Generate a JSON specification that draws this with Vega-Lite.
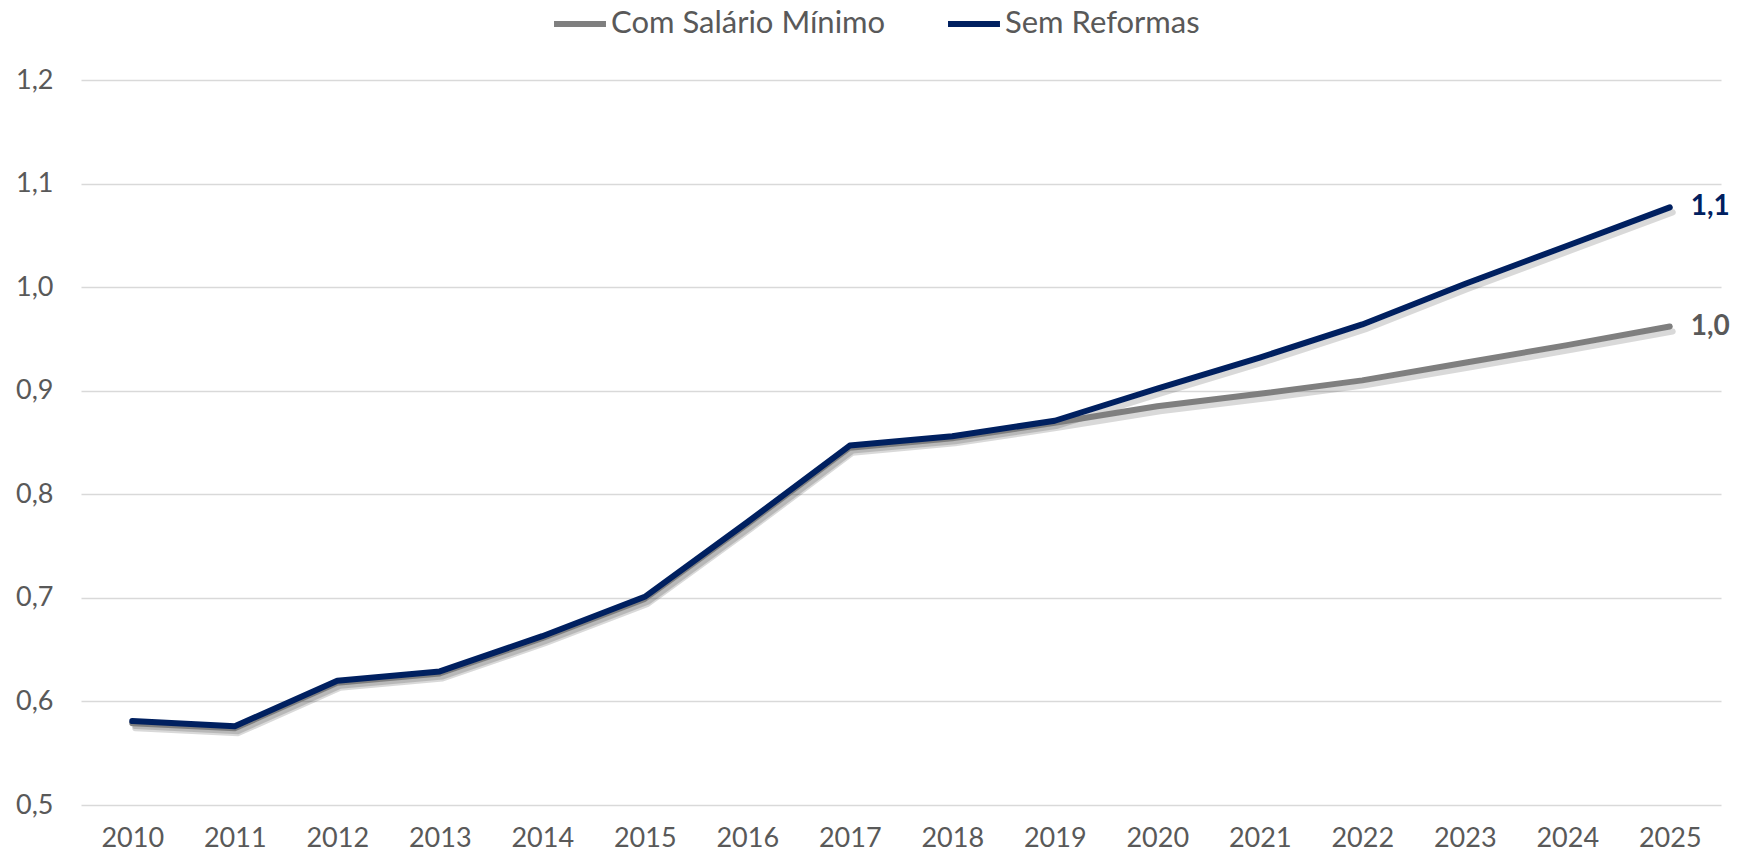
{
  "$schema": "https://vega.github.io/schema/vega-lite/v6.json",
  "autosize": "none",
  "width": 1640,
  "height": 725,
  "padding": {"left": 81, "top": 80, "right": 20, "bottom": 51},
  "background": "white",
  "config": {
    "locale": {"number": {"decimal": ",", "thousands": ".", "grouping": [3], "currency": ["", " €"]}},
    "font": "Lato",
    "view": {"stroke": null},
    "axis": {"labelFont": "Lato", "labelColor": "#595959", "labelFontSize": 27, "domain": false, "ticks": false, "title": null}
  },
  "data": {
    "values": [
      {"year": "2010", "series": "Com Salário Mínimo", "value": 0.579},
      {"year": "2011", "series": "Com Salário Mínimo", "value": 0.574},
      {"year": "2012", "series": "Com Salário Mínimo", "value": 0.618},
      {"year": "2013", "series": "Com Salário Mínimo", "value": 0.627},
      {"year": "2014", "series": "Com Salário Mínimo", "value": 0.661},
      {"year": "2015", "series": "Com Salário Mínimo", "value": 0.699},
      {"year": "2016", "series": "Com Salário Mínimo", "value": 0.771},
      {"year": "2017", "series": "Com Salário Mínimo", "value": 0.845},
      {"year": "2018", "series": "Com Salário Mínimo", "value": 0.854},
      {"year": "2019", "series": "Com Salário Mínimo", "value": 0.869},
      {"year": "2020", "series": "Com Salário Mínimo", "value": 0.885},
      {"year": "2021", "series": "Com Salário Mínimo", "value": 0.897},
      {"year": "2022", "series": "Com Salário Mínimo", "value": 0.910},
      {"year": "2023", "series": "Com Salário Mínimo", "value": 0.927},
      {"year": "2024", "series": "Com Salário Mínimo", "value": 0.944},
      {"year": "2025", "series": "Com Salário Mínimo", "value": 0.962},
      {"year": "2010", "series": "Sem Reformas", "value": 0.581},
      {"year": "2011", "series": "Sem Reformas", "value": 0.576},
      {"year": "2012", "series": "Sem Reformas", "value": 0.620},
      {"year": "2013", "series": "Sem Reformas", "value": 0.629},
      {"year": "2014", "series": "Sem Reformas", "value": 0.663},
      {"year": "2015", "series": "Sem Reformas", "value": 0.701},
      {"year": "2016", "series": "Sem Reformas", "value": 0.773},
      {"year": "2017", "series": "Sem Reformas", "value": 0.847},
      {"year": "2018", "series": "Sem Reformas", "value": 0.856},
      {"year": "2019", "series": "Sem Reformas", "value": 0.871},
      {"year": "2020", "series": "Sem Reformas", "value": 0.902},
      {"year": "2021", "series": "Sem Reformas", "value": 0.932},
      {"year": "2022", "series": "Sem Reformas", "value": 0.964},
      {"year": "2023", "series": "Sem Reformas", "value": 1.003},
      {"year": "2024", "series": "Sem Reformas", "value": 1.040},
      {"year": "2025", "series": "Sem Reformas", "value": 1.077}
    ]
  },
  "encoding": {
    "x": {
      "field": "year", "type": "ordinal",
      "scale": {"type": "point", "padding": 0.5},
      "axis": {"labelAngle": 0, "labelPadding": 20, "grid": false}
    },
    "y": {
      "field": "value", "type": "quantitative",
      "scale": {"domain": [0.5, 1.2], "nice": false, "zero": false},
      "axis": {"values": [0.5, 0.6, 0.7, 0.8, 0.9, 1.0, 1.1, 1.2], "format": ".1f", "labelPadding": 28, "grid": true, "gridColor": "#d9d9d9", "gridWidth": 1.5}
    }
  },
  "layer": [
    {
      "mark": {"type": "line", "strokeWidth": 6, "strokeCap": "round", "strokeJoin": "round", "xOffset": 3, "yOffset": 5, "opacity": 0.15},
      "encoding": {
        "detail": {"field": "series"},
        "color": {"value": "#000000"}
      }
    },
    {
      "mark": {"type": "line", "strokeWidth": 6, "strokeCap": "round", "strokeJoin": "round"},
      "encoding": {
        "color": {
          "field": "series", "type": "nominal",
          "scale": {"domain": ["Com Salário Mínimo", "Sem Reformas"], "range": ["#7f7f7f", "#002060"]},
          "legend": {
            "title": null, "orient": "none", "direction": "horizontal",
            "legendX": 470, "legendY": -85,
            "symbolType": "stroke", "symbolSize": 2700, "symbolStrokeWidth": 6,
            "labelFont": "Lato", "labelFontSize": 31, "labelColor": "#595959", "labelLimit": 0,
            "columnPadding": 50, "labelOffset": 2
          }
        }
      }
    },
    {
      "transform": [{"filter": "datum.year == '2025'"}],
      "mark": {"type": "text", "align": "left", "baseline": "middle", "dx": 21, "fontSize": 28, "fontWeight": "bold", "font": "Lato"},
      "encoding": {
        "text": {"field": "value", "type": "quantitative", "format": ".1f"},
        "color": {"condition": {"test": "datum.series == 'Sem Reformas'", "value": "#002060"}, "value": "#595959"}
      }
    }
  ]
}
